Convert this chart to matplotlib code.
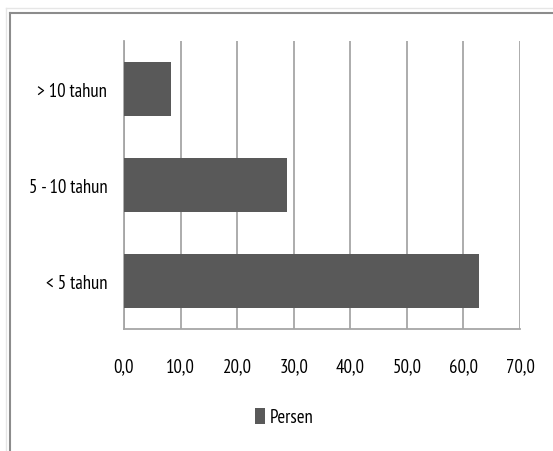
import matplotlib.pyplot as plt
from matplotlib.lines import Line2D
from matplotlib.ticker import FuncFormatter
from matplotlib import font_manager

# Data: length of service groups and their share (percent)
categories = ['< 5 tahun', '5 - 10 tahun', '> 10 tahun']
persen = [62.8, 28.9, 8.3]
x_ticks = [0, 10, 20, 30, 40, 50, 60, 70]

bar_color = '#595959'
grid_color = '#a6a6a6'

# Pick a narrow sans font if one is installed
names = {f.name for f in font_manager.fontManager.ttflist}
family = next((n for n in ['PT Sans Narrow', 'Roboto Condensed', 'Carlito'] if n in names),
              'DejaVu Sans')
plt.rcParams['font.family'] = [family, 'DejaVu Sans']
fsize = 13.5

fig = plt.figure(figsize=(5.53, 4.52), dpi=100)
W, H = 553, 452
ax = fig.add_axes([124 / W, 1 - 330 / H, (520 - 124) / W, (330 - 42) / H])

ax.barh(range(len(categories)), persen, height=0.56, color=bar_color, zorder=3)

ax.set_xlim(0, 70)
ax.set_ylim(-0.5, 2.5)
ax.set_xticks(x_ticks)
ax.xaxis.set_major_formatter(FuncFormatter(lambda v, p: f'{v:.1f}'.replace('.', ',')))
ax.set_yticks(range(len(categories)))
ax.set_yticklabels(categories)
ax.tick_params(axis='both', length=0, labelsize=fsize, colors='black')
ax.tick_params(axis='x', pad=20)
ax.tick_params(axis='y', pad=12)

ax.grid(axis='x', color=grid_color, linewidth=1.3, zorder=0)
for s in ['top', 'right']:
    ax.spines[s].set_visible(False)
for s in ['left', 'bottom']:
    ax.spines[s].set_color(grid_color)
    ax.spines[s].set_linewidth(1.3)

# Legend below the plot
ax.legend(['Persen'], loc='center', bbox_to_anchor=(284 / W, 1 - 418 / H),
          bbox_transform=fig.transFigure, frameon=False, fontsize=fsize,
          handlelength=0.55, handleheight=1.0, handletextpad=0.25)

# Chart frame (top and left edges)
fig.add_artist(Line2D([10 / W, 1], [1 - 14 / H, 1 - 14 / H], color='#8c8c8c', linewidth=1.5))
fig.add_artist(Line2D([10 / W, 10 / W], [0, 1 - 14 / H], color='#8c8c8c', linewidth=1.5))
fig.add_artist(Line2D([6 / W, 1], [1 - 9 / H, 1 - 9 / H], color='#e6e6e6', linewidth=1))
fig.add_artist(Line2D([6 / W, 6 / W], [0, 1 - 9 / H], color='#e6e6e6', linewidth=1))

fig.savefig('out.png', dpi=100)
